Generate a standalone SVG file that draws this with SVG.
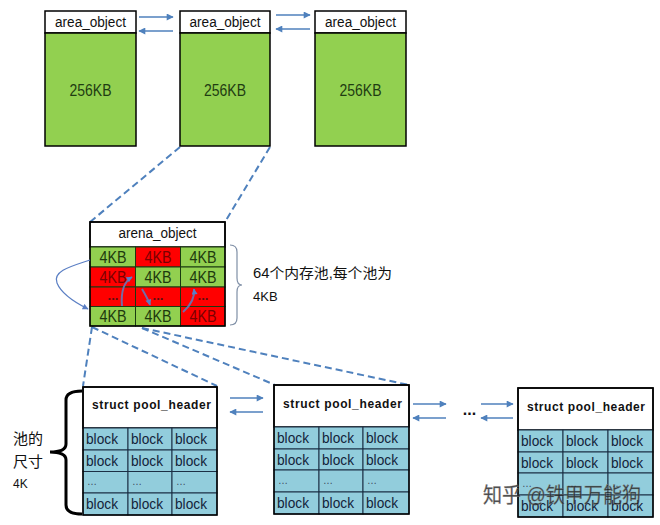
<svg xmlns="http://www.w3.org/2000/svg" width="660" height="525" viewBox="0 0 660 525">
<defs>
<marker id="ah" viewBox="0 0 10 10" refX="9" refY="5" markerUnits="userSpaceOnUse" markerWidth="9" markerHeight="7" orient="auto">
<path d="M0,0 L10,5 L0,10 z" fill="#4F81BD"/>
</marker>
<marker id="ahs" viewBox="0 0 10 10" refX="9" refY="5" markerUnits="userSpaceOnUse" markerWidth="7" markerHeight="6" orient="auto">
<path d="M0,0 L10,5 L0,10 z" fill="#5b7fc4"/>
</marker>
<style>
.box{stroke:#000;stroke-width:1.5}
.hdr{fill:#fff}
.grn{fill:#92D050}
.red{fill:#FF0000}
.cell{stroke:#1a3a10;stroke-width:1}
.blk{fill:#92CDDC;stroke:#1b2f45;stroke-width:1}
.t{font-family:"Liberation Sans",Arial,sans-serif}
.ao{font-size:14px;fill:#111;text-anchor:middle}
.kb{font-size:16px;fill:#1f3d12;text-anchor:middle}
.kg{font-size:16px;fill:#1e3a0e;text-anchor:middle}
.kr{font-size:16px;fill:#7a0000;text-anchor:middle}
.dr{font-size:13px;font-weight:bold;fill:#5a1010;text-anchor:middle}
.ph{font-size:12px;font-weight:bold;fill:#111;text-anchor:middle}
.bl{font-size:15px;fill:#13233a}
.bd{font-size:10px;fill:#3a4a5a}
.cjk{font-family:"Liberation Sans","Noto Sans CJK SC",sans-serif;fill:#111}
.arr{stroke:#4F81BD;stroke-width:1.5;fill:none;marker-end:url(#ah)}
.dash{stroke:#4F81BD;stroke-width:2;fill:none;stroke-dasharray:7 4}
.cur{stroke:#5b7fc4;fill:none;marker-end:url(#ahs)}
</style>
</defs>

<g id="connectors">
<line class="arr" x1="139" y1="17" x2="173" y2="17"/>
<line class="arr" x1="173" y1="31" x2="139" y2="31"/>
<line class="arr" x1="276" y1="15" x2="310" y2="15"/>
<line class="arr" x1="310" y1="29" x2="276" y2="29"/>
<line class="dash" x1="180" y1="147" x2="90" y2="222"/>
<line class="dash" x1="270" y1="147" x2="225" y2="222"/>
<line class="dash" x1="92" y1="327" x2="83" y2="386"/>
<line class="dash" x1="92" y1="327" x2="217" y2="386"/>
<line class="dash" x1="142" y1="328" x2="275" y2="385"/>
<line class="dash" x1="142" y1="328" x2="409" y2="385"/>
<line class="arr" x1="230" y1="398" x2="263" y2="398"/>
<line class="arr" x1="263" y1="412" x2="230" y2="412"/>
<line class="arr" x1="413" y1="404" x2="446" y2="404"/>
<line class="arr" x1="446" y1="418" x2="413" y2="418"/>
<line class="arr" x1="481" y1="404" x2="513" y2="404"/>
<line class="arr" x1="513" y1="418" x2="481" y2="418"/>
</g>

<g id="area1">
<rect class="box hdr" x="45" y="11" width="91" height="22"/>
<rect class="box grn" x="45" y="33" width="91" height="113"/>
<text class="t ao" x="90.5" y="27" textLength="71" lengthAdjust="spacingAndGlyphs">area_object</text>
<text class="t kb" x="90.5" y="96" textLength="42" lengthAdjust="spacingAndGlyphs">256KB</text>
</g>
<g id="area2">
<rect class="box hdr" x="180" y="11" width="90" height="22"/>
<rect class="box grn" x="180" y="33" width="90" height="113"/>
<text class="t ao" x="225" y="27" textLength="71" lengthAdjust="spacingAndGlyphs">area_object</text>
<text class="t kb" x="225" y="96" textLength="42" lengthAdjust="spacingAndGlyphs">256KB</text>
</g>
<g id="area3">
<rect class="box hdr" x="315" y="11" width="91" height="22"/>
<rect class="box grn" x="315" y="33" width="91" height="113"/>
<text class="t ao" x="360.5" y="27" textLength="71" lengthAdjust="spacingAndGlyphs">area_object</text>
<text class="t kb" x="360.5" y="96" textLength="42" lengthAdjust="spacingAndGlyphs">256KB</text>
</g>

<g id="arena">
<rect class="box hdr" x="90" y="222" width="135" height="25"/>
<text class="t ao" x="157.5" y="238" textLength="78" lengthAdjust="spacingAndGlyphs">arena_object</text>
<rect class="cell grn" x="90" y="247" width="45.5" height="20"/>
<rect class="cell red" x="135.5" y="247" width="45" height="20"/>
<rect class="cell grn" x="180.5" y="247" width="44.5" height="20"/>
<rect class="cell red" x="90" y="267" width="45.5" height="20"/>
<rect class="cell grn" x="135.5" y="267" width="45" height="20"/>
<rect class="cell grn" x="180.5" y="267" width="44.5" height="20"/>
<rect class="cell red" x="90" y="287" width="45.5" height="19.5"/>
<rect class="cell red" x="135.5" y="287" width="45" height="19.5"/>
<rect class="cell red" x="180.5" y="287" width="44.5" height="19.5"/>
<rect class="cell grn" x="90" y="306.5" width="45.5" height="19.5"/>
<rect class="cell grn" x="135.5" y="306.5" width="45" height="19.5"/>
<rect class="cell red" x="180.5" y="306.5" width="44.5" height="19.5"/>
<rect x="90" y="222" width="135" height="104" fill="none" stroke="#000" stroke-width="1.5"/>
<text class="t kg" x="113" y="263" textLength="27" lengthAdjust="spacingAndGlyphs">4KB</text>
<text class="t kr" x="158" y="263" textLength="27" lengthAdjust="spacingAndGlyphs">4KB</text>
<text class="t kg" x="203" y="263" textLength="27" lengthAdjust="spacingAndGlyphs">4KB</text>
<text class="t kr" x="113" y="283" textLength="27" lengthAdjust="spacingAndGlyphs">4KB</text>
<text class="t kg" x="158" y="283" textLength="27" lengthAdjust="spacingAndGlyphs">4KB</text>
<text class="t kg" x="203" y="283" textLength="27" lengthAdjust="spacingAndGlyphs">4KB</text>
<text class="t dr" x="113" y="300">...</text>
<text class="t dr" x="158" y="300">...</text>
<text class="t dr" x="203" y="300">...</text>
<text class="t kg" x="113" y="322" textLength="27" lengthAdjust="spacingAndGlyphs">4KB</text>
<text class="t kg" x="158" y="322" textLength="27" lengthAdjust="spacingAndGlyphs">4KB</text>
<text class="t kr" x="203" y="322" textLength="27" lengthAdjust="spacingAndGlyphs">4KB</text>
<path class="cur" stroke-width="1.2" d="M90,260 C72,266 52,271 57,283 C61,293 74,302 88,309"/>
<path class="cur" stroke-width="2" stroke-opacity="0.85" d="M122,306 C121,295 122,283 132,277"/>
<path class="cur" stroke-width="2" stroke-opacity="0.85" d="M142,289 C145,294 148,299 150,305"/>
<path class="cur" stroke-width="2" stroke-opacity="0.85" d="M183,312 C190,306 195,298 194,289"/>
<path d="M230,245 Q237,245 237,252 L237,278 Q237,285 242,285 Q237,285 237,292 L237,318 Q237,325 230,325" fill="none" stroke="#7f8fa6" stroke-width="1.2"/>
<text class="cjk" x="253" y="278" font-size="14" textLength="139" lengthAdjust="spacingAndGlyphs">64个内存池,每个池为</text>
<text class="cjk" x="253" y="301" font-size="13">4KB</text>
</g>

<g id="pool1">
<rect class="box hdr" x="83" y="387" width="134" height="41"/>
<text class="t ph" x="151.5" y="409" textLength="119" lengthAdjust="spacing">struct pool_header</text>
<rect class="blk" x="83" y="428" width="45" height="22"/>
<rect class="blk" x="128" y="428" width="44" height="22"/>
<rect class="blk" x="172" y="428" width="45" height="22"/>
<rect class="blk" x="83" y="450" width="45" height="21.5"/>
<rect class="blk" x="128" y="450" width="44" height="21.5"/>
<rect class="blk" x="172" y="450" width="45" height="21.5"/>
<rect class="blk" x="83" y="471.5" width="45" height="21.5"/>
<rect class="blk" x="128" y="471.5" width="44" height="21.5"/>
<rect class="blk" x="172" y="471.5" width="45" height="21.5"/>
<rect class="blk" x="83" y="493" width="45" height="22"/>
<rect class="blk" x="128" y="493" width="44" height="22"/>
<rect class="blk" x="172" y="493" width="45" height="22"/>
<rect x="83" y="387" width="134" height="128" fill="none" stroke="#000" stroke-width="1.5"/>
<text class="t bl" x="86" y="444" textLength="32" lengthAdjust="spacingAndGlyphs">block</text>
<text class="t bl" x="131" y="444" textLength="32" lengthAdjust="spacingAndGlyphs">block</text>
<text class="t bl" x="175" y="444" textLength="32" lengthAdjust="spacingAndGlyphs">block</text>
<text class="t bl" x="86" y="466" textLength="32" lengthAdjust="spacingAndGlyphs">block</text>
<text class="t bl" x="131" y="466" textLength="32" lengthAdjust="spacingAndGlyphs">block</text>
<text class="t bl" x="175" y="466" textLength="32" lengthAdjust="spacingAndGlyphs">block</text>
<text class="t bd" x="87" y="485">…</text>
<text class="t bd" x="132" y="485">…</text>
<text class="t bd" x="176" y="485">…</text>
<text class="t bl" x="86" y="509" textLength="32" lengthAdjust="spacingAndGlyphs">block</text>
<text class="t bl" x="131" y="509" textLength="32" lengthAdjust="spacingAndGlyphs">block</text>
<text class="t bl" x="175" y="509" textLength="32" lengthAdjust="spacingAndGlyphs">block</text>
<path d="M82,391 Q66,391 66,400 L66,444 Q66,452 50,452 Q66,452 66,460 L66,505 Q66,514 82,514" fill="none" stroke="#000" stroke-width="3"/>
<text class="cjk" x="13" y="444" font-size="15">池的</text>
<text class="cjk" x="13" y="467" font-size="15">尺寸</text>
<text class="cjk" x="13" y="488" font-size="12">4K</text>
</g>

<g id="pool2">
<rect class="box hdr" x="274" y="385" width="135" height="42"/>
<text class="t ph" x="342.5" y="408" textLength="119" lengthAdjust="spacing">struct pool_header</text>
<rect class="blk" x="274" y="427" width="45" height="22"/>
<rect class="blk" x="319" y="427" width="44" height="22"/>
<rect class="blk" x="363" y="427" width="46" height="22"/>
<rect class="blk" x="274" y="449" width="45" height="21"/>
<rect class="blk" x="319" y="449" width="44" height="21"/>
<rect class="blk" x="363" y="449" width="46" height="21"/>
<rect class="blk" x="274" y="470" width="45" height="22"/>
<rect class="blk" x="319" y="470" width="44" height="22"/>
<rect class="blk" x="363" y="470" width="46" height="22"/>
<rect class="blk" x="274" y="492" width="45" height="22"/>
<rect class="blk" x="319" y="492" width="44" height="22"/>
<rect class="blk" x="363" y="492" width="46" height="22"/>
<rect x="274" y="385" width="135" height="129" fill="none" stroke="#000" stroke-width="1.5"/>
<text class="t bl" x="277" y="443" textLength="32" lengthAdjust="spacingAndGlyphs">block</text>
<text class="t bl" x="322" y="443" textLength="32" lengthAdjust="spacingAndGlyphs">block</text>
<text class="t bl" x="366" y="443" textLength="32" lengthAdjust="spacingAndGlyphs">block</text>
<text class="t bl" x="277" y="465" textLength="32" lengthAdjust="spacingAndGlyphs">block</text>
<text class="t bl" x="322" y="465" textLength="32" lengthAdjust="spacingAndGlyphs">block</text>
<text class="t bl" x="366" y="465" textLength="32" lengthAdjust="spacingAndGlyphs">block</text>
<text class="t bd" x="278" y="484">…</text>
<text class="t bd" x="323" y="484">…</text>
<text class="t bd" x="367" y="484">…</text>
<text class="t bl" x="277" y="508" textLength="32" lengthAdjust="spacingAndGlyphs">block</text>
<text class="t bl" x="322" y="508" textLength="32" lengthAdjust="spacingAndGlyphs">block</text>
<text class="t bl" x="366" y="508" textLength="32" lengthAdjust="spacingAndGlyphs">block</text>
</g>

<g id="ellipsis">
<text class="t" x="469.5" y="415" font-size="16" font-weight="bold" fill="#111" text-anchor="middle">...</text>
</g>

<g id="pool3">
<rect class="box hdr" x="518" y="388" width="135" height="42"/>
<text class="t ph" x="586" y="411" textLength="118" lengthAdjust="spacing">struct pool_header</text>
<rect class="blk" x="518" y="430" width="45" height="22"/>
<rect class="blk" x="563" y="430" width="45" height="22"/>
<rect class="blk" x="608" y="430" width="45" height="22"/>
<rect class="blk" x="518" y="452" width="45" height="21"/>
<rect class="blk" x="563" y="452" width="45" height="21"/>
<rect class="blk" x="608" y="452" width="45" height="21"/>
<rect class="blk" x="518" y="473" width="45" height="22"/>
<rect class="blk" x="563" y="473" width="45" height="22"/>
<rect class="blk" x="608" y="473" width="45" height="22"/>
<rect class="blk" x="518" y="495" width="45" height="22"/>
<rect class="blk" x="563" y="495" width="45" height="22"/>
<rect class="blk" x="608" y="495" width="45" height="22"/>
<rect x="518" y="388" width="135" height="129" fill="none" stroke="#000" stroke-width="1.5"/>
<text class="t bl" x="521" y="446" textLength="32" lengthAdjust="spacingAndGlyphs">block</text>
<text class="t bl" x="566" y="446" textLength="32" lengthAdjust="spacingAndGlyphs">block</text>
<text class="t bl" x="611" y="446" textLength="32" lengthAdjust="spacingAndGlyphs">block</text>
<text class="t bl" x="521" y="468" textLength="32" lengthAdjust="spacingAndGlyphs">block</text>
<text class="t bl" x="566" y="468" textLength="32" lengthAdjust="spacingAndGlyphs">block</text>
<text class="t bl" x="611" y="468" textLength="32" lengthAdjust="spacingAndGlyphs">block</text>
<text class="t bd" x="522" y="487">…</text>
<text class="t bd" x="567" y="487">…</text>
<text class="t bd" x="612" y="487">…</text>
<text class="t bl" x="521" y="511" textLength="32" lengthAdjust="spacingAndGlyphs">block</text>
<text class="t bl" x="566" y="511" textLength="32" lengthAdjust="spacingAndGlyphs">block</text>
<text class="t bl" x="611" y="511" textLength="32" lengthAdjust="spacingAndGlyphs">block</text>
</g>

<g id="watermark">
<text class="cjk" x="483" y="502" font-size="21" fill="#ffffff" fill-opacity="0.8" stroke="#8a8a8a" stroke-width="0.6" stroke-opacity="0.7" textLength="158" lengthAdjust="spacingAndGlyphs">知乎 @铁甲万能狗</text>
</g>
</svg>
